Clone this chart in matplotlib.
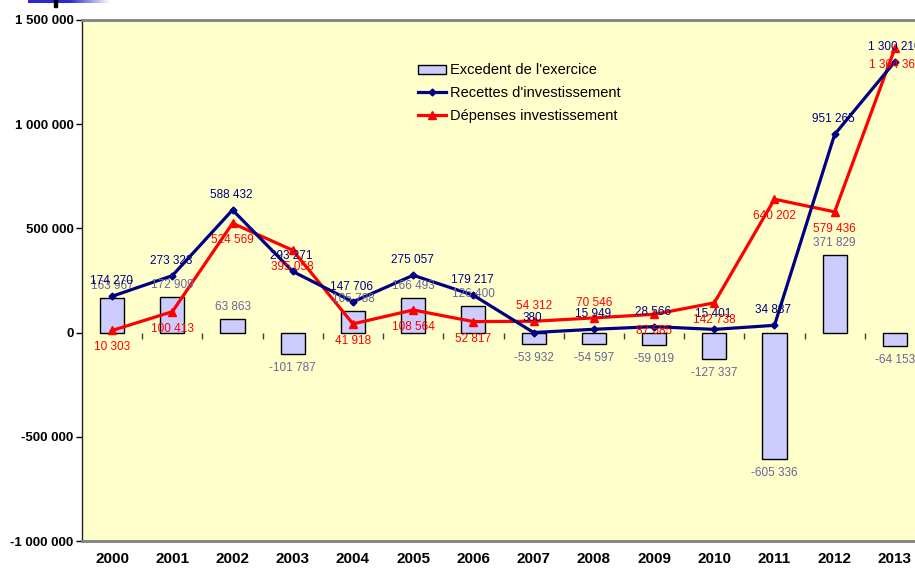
import numpy as np
import matplotlib.pyplot as plt
from matplotlib.markers import TICKDOWN

plt.rcParams['font.family'] = ['Liberation Sans', 'DejaVu Sans']

years = ['2000', '2001', '2002', '2003', '2004', '2005', '2006',
         '2007', '2008', '2009', '2010', '2011', '2012', '2013']
excedent = [163967, 172909, 63863, -101787, 105788, 166493, 126400,
            -53932, -54597, -59019, -127337, -605336, 371829, -64153]
recettes = [174270, 273323, 588432, 293271, 147706, 275057, 179217,
            380, 15949, 28566, 15401, 34887, 951265, 1300210]
depenses = [10303, 100413, 524569, 395058, 41918, 108564, 52817,
            54312, 70546, 87585, 142738, 640202, 579436, 1364363]
# label above (+1) or below (-1) the point
dep_side = [-1, -1, -1, -1, -1, -1, -1, 1, 1, -1, -1, -1, -1, -1]


def fmt(v):
    return f'{v:,}'.replace(',', ' ')


fig = plt.figure(figsize=(9.15, 5.70), dpi=100)
ax = fig.add_axes([82 / 915, 29 / 570, 843 / 915, 521 / 570])
ax.set_facecolor('#FFFFCC')

x = np.arange(len(years))
bars = ax.bar(x, excedent, width=0.4, color='#CCCCFF', edgecolor='black',
              linewidth=1.0, label="Excedent de l'exercice", zorder=2)
l_rec, = ax.plot(x, recettes, color='#000080', lw=2.3, marker='D', ms=3.5,
                 label="Recettes d'investissement", zorder=4)
l_dep, = ax.plot(x, depenses, color='#FF0000', lw=2.3, marker='^', ms=5.5,
                 label='Dépenses investissement', zorder=3)

# tick marks between categories on the zero line
ax.plot(x[:-1] + 0.5, np.zeros(len(x) - 1), ls='none', marker=TICKDOWN,
        ms=4, mew=1, color='#404040', zorder=1)

for xi, v in zip(x, excedent):
    off = 12 if v >= 0 else -14
    ax.annotate(fmt(v), (xi, v), xytext=(0, off), textcoords='offset pixels',
                ha='center', va='center', fontsize=8.5, color='#666699', zorder=5)
for xi, v in zip(x, recettes):
    ax.annotate(fmt(v), (xi, v), xytext=(-1, 15), textcoords='offset pixels',
                ha='center', va='center', fontsize=8.5, color='#000080', zorder=6)
for xi, v, s in zip(x, depenses, dep_side):
    off = 15 if s > 0 else -17
    ax.annotate(fmt(v), (xi, v), xytext=(0, off), textcoords='offset pixels',
                ha='center', va='center', fontsize=8.5, color='#FF0000', zorder=6)

ax.set_xlim(-0.5, len(years) - 0.5)
ax.set_ylim(-1000000, 1500000)
ax.set_yticks(np.arange(-1000000, 1500001, 500000))
ax.set_yticklabels([fmt(int(t)) for t in ax.get_yticks()],
                   fontsize=9.5, fontweight='bold')
ax.set_xticks(x)
ax.set_xticklabels(years, fontsize=11, fontweight='bold')
ax.tick_params(axis='x', length=0, pad=8)
ax.tick_params(axis='y', length=4, width=1, direction='out', pad=2)

ax.spines['left'].set_color('#202020')
ax.spines['left'].set_linewidth(1.0)
for side in ('top', 'bottom'):
    ax.spines[side].set_color('#808080')
    ax.spines[side].set_linewidth(2.0)
ax.spines['right'].set_visible(False)

ax.legend([bars, l_rec, l_dep],
          ["Excedent de l'exercice", "Recettes d'investissement",
           'Dépenses investissement'],
          loc='upper left', bbox_to_anchor=(0.392, 0.928), frameon=False,
          fontsize=10.5, handlelength=1.9, handleheight=0.6,
          labelspacing=0.6, handletextpad=0.3, borderaxespad=0)

# blue title fragment at the top left
deco = fig.add_axes([28 / 915, 567 / 570, 82 / 915, 3 / 570])
grad = np.linspace(0, 1, 100).reshape(1, -1)
deco.imshow(grad, aspect='auto', cmap=plt.matplotlib.colors.LinearSegmentedColormap.from_list(
    'b', ['#2a2ad0', '#2a2ad0', '#ffffff']))
deco.axis('off')
fig.patches.append(plt.Rectangle((54 / 915, 563 / 570), 3 / 915, 7 / 570,
                                 transform=fig.transFigure, color='black'))

fig.savefig('out.png', dpi=100)
